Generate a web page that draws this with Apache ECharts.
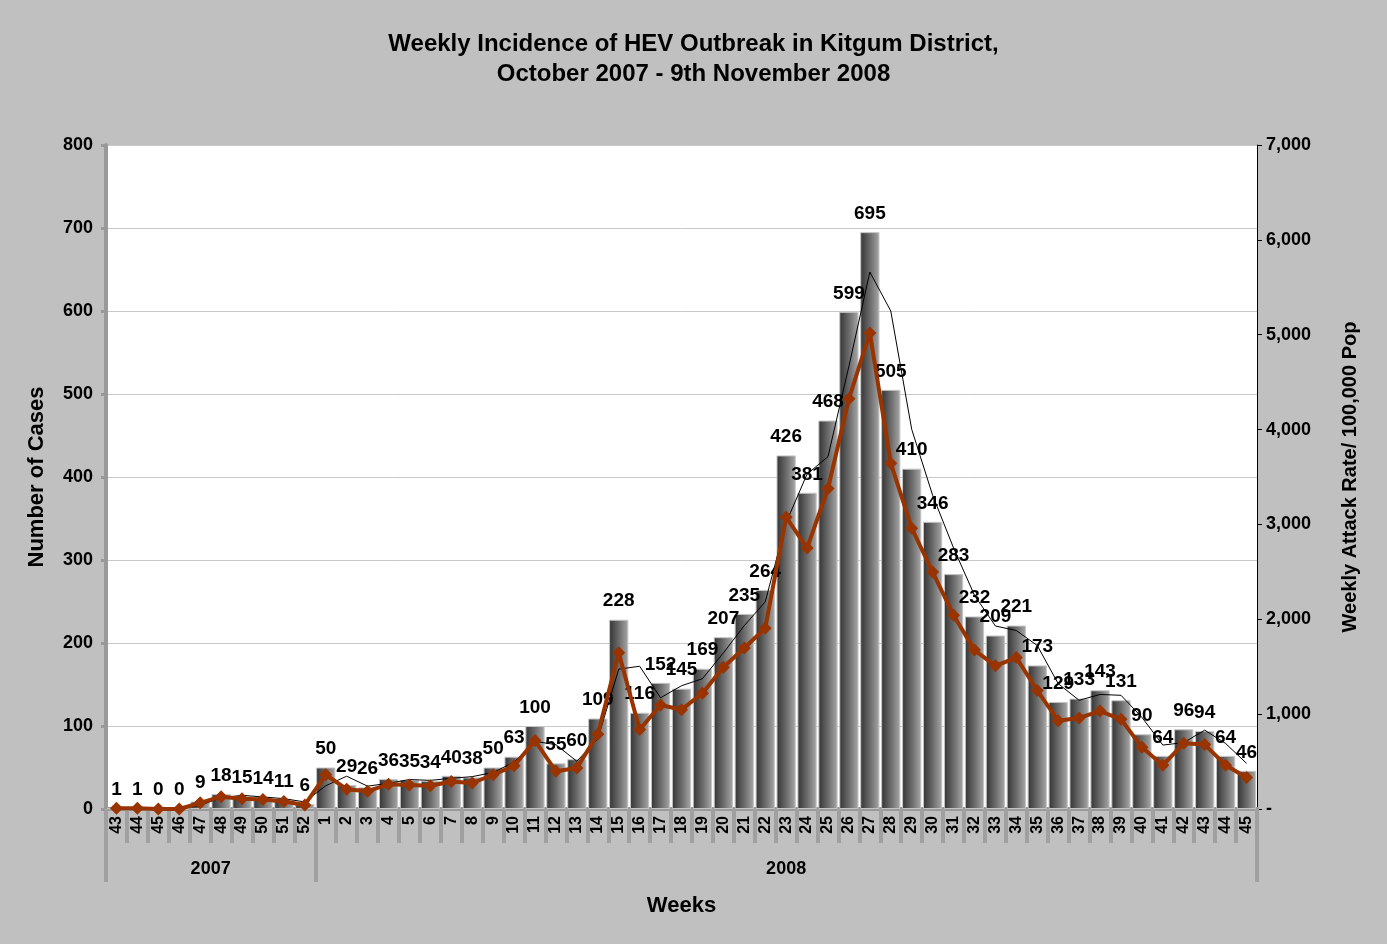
<!DOCTYPE html>
<html>
<head>
<meta charset="utf-8">
<title>Weekly Incidence of HEV Outbreak in Kitgum District</title>
<script src="https://cdn.jsdelivr.net/npm/echarts@6/dist/echarts.min.js"></script>
<style>
  html, body { margin: 0; padding: 0; background: #c0c0c0; }
  #main { width: 1387px; height: 944px; }
</style>
</head>
<body>
<div id="main"></div>
<script>
// weeks 43-52 of 2007, then weeks 1-45 of 2008
var weeks = ['43', '44', '45', '46', '47', '48', '49', '50', '51', '52',
  '1', '2', '3', '4', '5', '6', '7', '8', '9', '10', '11', '12', '13', '14', '15',
  '16', '17', '18', '19', '20', '21', '22', '23', '24', '25', '26', '27', '28', '29', '30',
  '31', '32', '33', '34', '35', '36', '37', '38', '39', '40', '41', '42', '43', '44', '45'];

// number of cases per week (bars, left axis)
var cases = [1, 1, 0, 0, 9, 18, 15, 14, 11, 6,
  50, 29, 26, 36, 35, 34, 40, 38, 50, 63, 100, 55, 60, 109, 228,
  116, 152, 145, 169, 207, 235, 264, 426, 381, 468, 599, 695, 505, 410, 346,
  283, 232, 209, 221, 173, 129, 133, 143, 131, 90, 64, 96, 94, 64, 46];

// thin black line (2 period moving average of cases, left axis)
var movingAvg = [null, 1, 0.5, 0, 4.5, 13.5, 16.5, 14.5, 12.5, 8.5,
  28, 39.5, 27.5, 31, 35.5, 34.5, 37, 39, 44, 56.5, 81.5, 77.5, 57.5, 84.5, 168.5,
  172, 134, 148.5, 157, 188, 221, 249.5, 345, 403.5, 424.5, 533.5, 647, 600, 457.5, 378,
  314.5, 257.5, 220.5, 215, 197, 151, 131, 138, 137, 110.5, 77, 80, 95, 79, 55];

// weekly attack rate / 100,000 pop (brown line, right axis)
var attackRate = [7, 7, 0, 0, 65, 130, 108, 101, 79, 43,
  361, 209, 188, 260, 253, 245, 289, 274, 361, 455, 722, 397, 433, 787, 1646,
  838, 1097, 1047, 1220, 1495, 1697, 1906, 3076, 2751, 3379, 4325, 5018, 3646, 2960, 2498,
  2043, 1675, 1509, 1596, 1249, 931, 960, 1032, 946, 650, 462, 693, 679, 462, 332];

var yearLabels = ['2007', '2008'];
var yearSpans = [10, 45];

// boundaries and centres of the year groups, in category units
var yearEdges = [0];
var yearMids = [];
var yearMidText = {};
for (let i = 0; i < yearSpans.length; i++) {
  let start = yearEdges[yearEdges.length - 1];
  yearEdges.push(start + yearSpans[i]);
  yearMids.push(start + yearSpans[i] / 2);
  yearMidText[start + yearSpans[i] / 2] = yearLabels[i];
}

var myChart = echarts.init(document.getElementById('main'));

var option = {
  backgroundColor: '#c0c0c0',
  animation: false,
  textStyle: { fontFamily: 'Liberation Sans, Arial, sans-serif' },
  title: {
    text: 'Weekly Incidence of HEV Outbreak in Kitgum District,\nOctober 2007 - 9th November 2008',
    left: 'center',
    top: 24,
    textStyle: { fontSize: 24, fontWeight: 'bold', color: '#000', lineHeight: 30 }
  },
  grid: {
    left: 106, right: 130, top: 145, bottom: 135,
    show: true, backgroundColor: '#ffffff', borderWidth: 0
  },
  xAxis: [{
    type: 'category',
    data: weeks,
    boundaryGap: true,
    axisLine: { lineStyle: { color: '#999999', width: 4 } },
    axisTick: { show: true, interval: 0, length: 34, lineStyle: { color: '#a0a0a0', width: 4 } },
    axisLabel: { interval: 0, rotate: 90, margin: 7, fontSize: 16, fontWeight: 'bold', color: '#000' }
  }, {
    type: 'value',
    position: 'bottom',
    min: 0,
    max: weeks.length,
    name: 'Weeks',
    nameLocation: 'middle',
    nameGap: 86,
    nameTextStyle: { fontSize: 22, fontWeight: 'bold', color: '#000' },
    axisLine: { show: false },
    splitLine: { show: false },
    axisTick: { show: true, customValues: yearEdges, length: 73, lineStyle: { color: '#a0a0a0', width: 4 } },
    axisLabel: {
      customValues: yearMids,
      margin: 51,
      fontSize: 18,
      fontWeight: 'bold',
      color: '#000',
      formatter: function (v) { return yearMidText[v] || ''; }
    }
  }],
  yAxis: [{
    type: 'value',
    min: 0,
    max: 800,
    interval: 100,
    name: 'Number of Cases',
    nameLocation: 'middle',
    nameRotate: 90,
    nameGap: 58,
    nameTextStyle: { fontSize: 22, fontWeight: 'bold', color: '#000' },
    axisLine: { show: true, lineStyle: { color: '#999999', width: 4 } },
    axisTick: { show: true, length: 5, lineStyle: { color: '#999999', width: 3 } },
    axisLabel: { fontSize: 18, fontWeight: 'bold', color: '#000', margin: 13 },
    splitLine: { lineStyle: { color: '#c8c8c8', width: 1 } }
  }, {
    type: 'value',
    position: 'right',
    min: 0,
    max: 7000,
    interval: 1000,
    name: 'Weekly Attack Rate/ 100,000 Pop',
    nameLocation: 'middle',
    nameRotate: 90,
    nameGap: 83,
    nameTextStyle: { fontSize: 20, fontWeight: 'bold', color: '#000' },
    axisLine: { show: true, lineStyle: { color: '#000', width: 1 } },
    axisTick: { show: true, length: 5, lineStyle: { color: '#000', width: 1 } },
    axisLabel: {
      fontSize: 18, fontWeight: 'bold', color: '#000', margin: 9,
      formatter: function (v) { return v === 0 ? '-' : v.toLocaleString('en-US'); }
    },
    splitLine: { show: false }
  }],
  series: [{
    name: 'Cases',
    type: 'bar',
    xAxisIndex: 0,
    yAxisIndex: 0,
    data: cases,
    barCategoryGap: '8%',
    itemStyle: {
      borderColor: '#c4c4c4',
      borderWidth: 1,
      color: new echarts.graphic.LinearGradient(0, 0, 1, 0, [
        { offset: 0, color: '#333333' },
        { offset: 0.55, color: '#707070' },
        { offset: 1, color: '#a8a8a8' }
      ])
    },
    label: { show: true, position: 'top', distance: 9, fontSize: 19, fontWeight: 'bold', color: '#000' }
  }, {
    name: '2 per. Mov. Avg. (Cases)',
    type: 'line',
    xAxisIndex: 0,
    yAxisIndex: 0,
    data: movingAvg,
    symbol: 'none',
    lineStyle: { color: '#000', width: 1 },
    z: 3
  }, {
    name: 'Weekly Attack Rate',
    type: 'line',
    xAxisIndex: 0,
    yAxisIndex: 1,
    data: attackRate,
    symbol: 'diamond',
    symbolSize: 13,
    lineStyle: { color: '#993300', width: 4 },
    itemStyle: { color: '#993300' },
    z: 4
  }]
};

myChart.setOption(option);
</script>
</body>
</html>
